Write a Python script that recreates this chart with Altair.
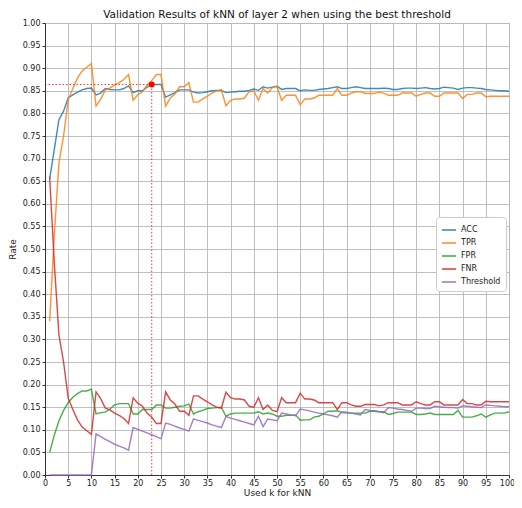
import altair as alt
import pandas as pd

k_values = list(range(1, 101))

acc = [0.655, 0.72, 0.786, 0.805, 0.834, 0.841, 0.847, 0.852, 0.855, 0.856,
       0.841, 0.845, 0.855, 0.853, 0.852, 0.852, 0.855, 0.861, 0.846, 0.850,
       0.850, 0.858, 0.864, 0.864, 0.864, 0.836, 0.841, 0.846, 0.852, 0.852,
       0.852, 0.847, 0.845, 0.846, 0.848, 0.850, 0.851, 0.851, 0.846, 0.847,
       0.848, 0.849, 0.849, 0.851, 0.854, 0.851, 0.859, 0.856, 0.858, 0.860,
       0.853, 0.855, 0.855, 0.855, 0.850, 0.852, 0.851, 0.851, 0.853, 0.854,
       0.855, 0.857, 0.859, 0.855, 0.855, 0.857, 0.859, 0.857, 0.855, 0.855,
       0.855, 0.855, 0.856, 0.855, 0.853, 0.853, 0.855, 0.856, 0.856, 0.855,
       0.856, 0.857, 0.855, 0.854, 0.855, 0.858, 0.857, 0.856, 0.853, 0.856,
       0.857, 0.857, 0.856, 0.855, 0.853, 0.852, 0.851, 0.850, 0.850, 0.849]

tpr = [0.34, 0.53, 0.69, 0.75, 0.83, 0.855, 0.878, 0.894, 0.902, 0.91,
       0.816, 0.831, 0.852, 0.856, 0.863, 0.868, 0.875, 0.886, 0.829, 0.841,
       0.848, 0.863, 0.872, 0.886, 0.886, 0.816, 0.834, 0.843, 0.859, 0.859,
       0.868, 0.825, 0.825, 0.832, 0.838, 0.845, 0.850, 0.852, 0.817, 0.829,
       0.832, 0.832, 0.834, 0.848, 0.850, 0.829, 0.855, 0.845, 0.857, 0.860,
       0.829, 0.840, 0.840, 0.840, 0.819, 0.832, 0.832, 0.834, 0.840, 0.840,
       0.840, 0.840, 0.855, 0.840, 0.840, 0.845, 0.848, 0.848, 0.844, 0.844,
       0.844, 0.847, 0.845, 0.840, 0.840, 0.840, 0.845, 0.845, 0.845, 0.838,
       0.842, 0.845, 0.845, 0.838, 0.838, 0.845, 0.845, 0.845, 0.845, 0.833,
       0.842, 0.842, 0.845, 0.845, 0.837, 0.838, 0.838, 0.838, 0.838, 0.838]

fpr = [0.05, 0.088, 0.12, 0.143, 0.16, 0.172, 0.18, 0.186, 0.186, 0.19,
       0.135, 0.138, 0.139, 0.146, 0.155, 0.158, 0.158, 0.158, 0.135, 0.135,
       0.145, 0.145, 0.145, 0.155, 0.155, 0.148, 0.148, 0.150, 0.152, 0.153,
       0.157, 0.135, 0.140, 0.143, 0.147, 0.148, 0.149, 0.150, 0.130, 0.135,
       0.137, 0.137, 0.137, 0.137, 0.137, 0.140, 0.135, 0.137, 0.135, 0.130,
       0.130, 0.132, 0.132, 0.133, 0.121, 0.122, 0.122, 0.128, 0.130, 0.135,
       0.141, 0.141, 0.142, 0.138, 0.137, 0.137, 0.137, 0.137, 0.137, 0.141,
       0.141, 0.140, 0.140, 0.134, 0.136, 0.139, 0.139, 0.139, 0.139, 0.134,
       0.134, 0.135, 0.137, 0.134, 0.134, 0.134, 0.134, 0.134, 0.143, 0.128,
       0.128, 0.128, 0.131, 0.135, 0.128, 0.133, 0.137, 0.137, 0.137, 0.140]

fnr = [0.66, 0.47, 0.31, 0.25, 0.17, 0.145, 0.122, 0.106, 0.098, 0.09,
       0.184, 0.169, 0.148, 0.144, 0.137, 0.132, 0.125, 0.114, 0.171, 0.159,
       0.152, 0.137, 0.128, 0.114, 0.114, 0.184, 0.166, 0.157, 0.141, 0.141,
       0.132, 0.175, 0.175, 0.168, 0.162, 0.155, 0.150, 0.148, 0.183, 0.171,
       0.168, 0.168, 0.166, 0.152, 0.150, 0.171, 0.145, 0.155, 0.143, 0.140,
       0.171, 0.160, 0.160, 0.160, 0.181, 0.168, 0.168, 0.166, 0.160, 0.160,
       0.160, 0.160, 0.145, 0.160, 0.160, 0.155, 0.152, 0.152, 0.156, 0.156,
       0.156, 0.153, 0.155, 0.160, 0.160, 0.160, 0.155, 0.155, 0.155, 0.162,
       0.158, 0.155, 0.155, 0.162, 0.162, 0.155, 0.155, 0.155, 0.155, 0.167,
       0.158, 0.158, 0.155, 0.155, 0.163, 0.162, 0.162, 0.162, 0.162, 0.162]

threshold = [0, 0, 0, 0, 0, 0, 0, 0, 0, 0,
             0.091, 0.085, 0.079, 0.074, 0.068, 0.064, 0.060, 0.055, 0.105, 0.101,
             0.097, 0.093, 0.089, 0.085, 0.080, 0.115, 0.112, 0.108, 0.104, 0.101,
             0.097, 0.124, 0.121, 0.118, 0.115, 0.111, 0.108, 0.105, 0.129, 0.126,
             0.123, 0.120, 0.117, 0.114, 0.111, 0.130, 0.107, 0.124, 0.122, 0.120,
             0.137, 0.135, 0.133, 0.131, 0.146, 0.144, 0.142, 0.139, 0.137, 0.135,
             0.133, 0.131, 0.128, 0.140, 0.139, 0.137, 0.135, 0.133, 0.145, 0.143,
             0.142, 0.140, 0.138, 0.149, 0.148, 0.146, 0.145, 0.143, 0.141, 0.148,
             0.148, 0.147, 0.147, 0.152, 0.151, 0.150, 0.149, 0.149, 0.148, 0.153,
             0.152, 0.151, 0.150, 0.149, 0.155, 0.154, 0.153, 0.152, 0.151, 0.151]

series_names = ["ACC", "TPR", "FPR", "FNR", "Threshold"]
series_colors = ["#1f77b4", "#ff7f0e", "#2ca02c", "#d62728", "#9467bd"]

best_k = [23]
best_acc = [0.864]

x_ticks = list(range(0, 101, 5))
y_ticks = [round(i * 0.05, 2) for i in range(21)]

rows = []
for name, vals in zip(series_names, [acc, tpr, fpr, fnr, threshold]):
    for k, v in zip(k_values, vals):
        rows.append({"k": k, "value": v, "series": name})
df = pd.DataFrame(rows)

best_df = pd.DataFrame({"k": best_k, "acc": best_acc, "zero": [0]})

x_scale = alt.Scale(domain=[0, 100], nice=False, zero=False)
y_scale = alt.Scale(domain=[0, 1], nice=False)

common_axis = dict(labelFontSize=8, titleFontSize=9, tickSize=3,
                   grid=True, gridColor="#b0b0b0", gridWidth=1, gridOpacity=0.8,
                   domainColor="#333", tickColor="#333", labelColor="#222",
                   titleFontWeight="normal", titleColor="#222",
                   labelOverlap=False, labelFlush=False)

x_axis = alt.Axis(title="Used k for kNN", values=x_ticks, format="d",
                  labelPadding=1, titlePadding=1,
                  labelOffset=alt.ExprRef(expr="datum.value >= 100 ? -2 : 0"),
                  **common_axis)
y_axis = alt.Axis(title="Rate", values=y_ticks, format=".2f",
                  labelPadding=2, titlePadding=5, **common_axis)

X = alt.X("k:Q", scale=x_scale, axis=x_axis)

lines = alt.Chart(df).mark_line(strokeWidth=1.4, opacity=0.85).encode(
    x=X,
    y=alt.Y("value:Q", scale=y_scale, axis=y_axis),
    color=alt.Color("series:N",
                    scale=alt.Scale(domain=series_names, range=series_colors),
                    sort=series_names,
                    legend=alt.Legend(title=None, orient="none",
                                      legendX=391, legendY=194,
                                      symbolType="stroke", symbolStrokeWidth=1.6,
                                      symbolSize=200, labelFontSize=8,
                                      rowPadding=1, padding=5,
                                      fillColor="white", strokeColor="#ccc",
                                      cornerRadius=3, labelColor="#222")),
    detail="series:N",
)

hline = alt.Chart(best_df).mark_rule(color="red", strokeDash=[1.5, 2], strokeWidth=1, opacity=0.8).encode(
    x=alt.X("zero:Q", scale=x_scale, axis=x_axis),
    x2="k:Q",
    y=alt.Y("acc:Q", scale=y_scale, axis=y_axis),
)
vline = alt.Chart(best_df).mark_rule(color="red", strokeDash=[1.5, 2], strokeWidth=1, opacity=0.8).encode(
    x=X,
    y=alt.Y("zero:Q", scale=y_scale, axis=y_axis),
    y2="acc:Q",
)
point = alt.Chart(best_df).mark_circle(color="red", size=36, opacity=1).encode(
    x=X,
    y=alt.Y("acc:Q", scale=y_scale, axis=y_axis),
)

chart = alt.layer(lines, hline, vline, point).properties(
    width=464, height=452,
    title=alt.TitleParams("Validation Results of kNN of layer 2 when using the best threshold",
                          fontSize=10.5, fontWeight="normal", color="#111", offset=3, dy=4),
    padding={"left": 37, "top": 15, "right": 5, "bottom": 25},
    autosize=alt.AutoSizeParams(type="none"),
).configure_view(stroke="#333", strokeWidth=1).configure(font="DejaVu Sans")

chart.save("out.html", embed_options={"renderer": "svg", "actions": False})
